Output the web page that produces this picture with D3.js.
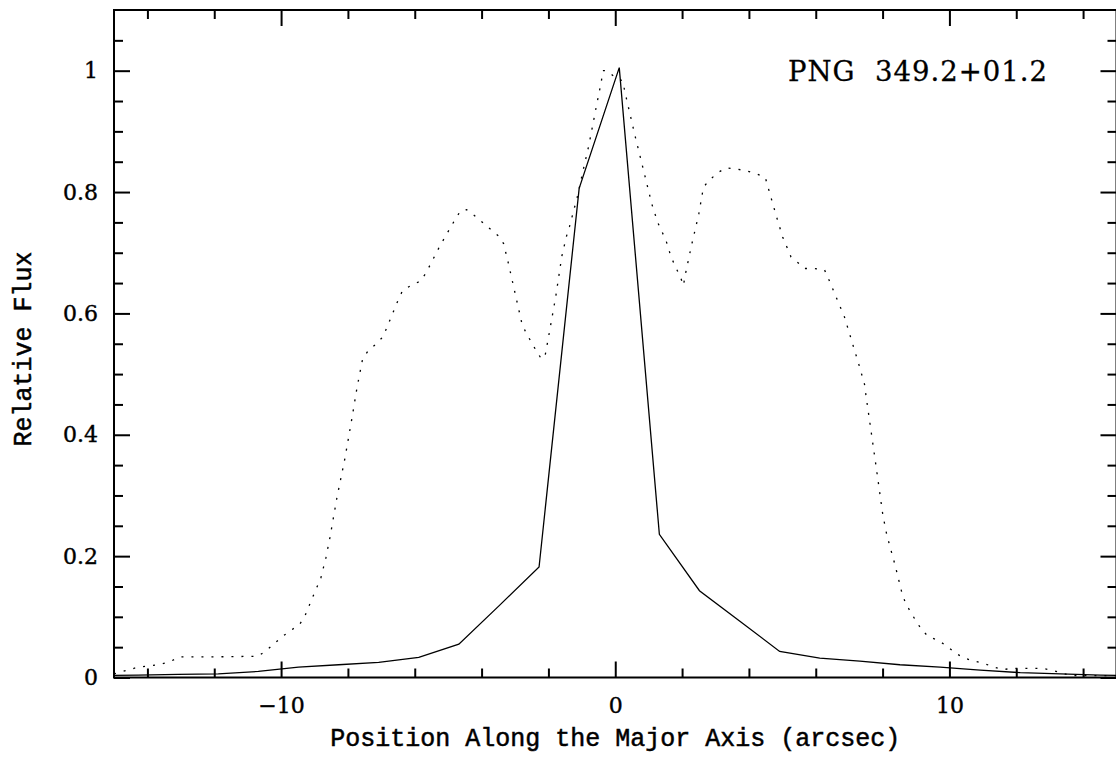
<!DOCTYPE html>
<html>
<head>
<meta charset="utf-8">
<script src="https://cdn.jsdelivr.net/npm/d3@7"></script>
<style>
  body { margin: 0; background: #fff; }
  svg { display: block; }
</style>
</head>
<body>
<svg id="viz"></svg>
<script>
// Data
const solidPos = [-15.48, -14.28, -13.08, -11.88, -10.68, -9.48, -8.28, -7.08, -5.88, -4.68,
    -3.48, -2.28, -1.08, 0.12, 1.32, 2.52, 3.72, 4.92, 6.12, 7.32,
    8.52, 9.72, 10.92, 12.12, 13.32, 14.52, 15.72]
const solidFlux = [0.003, 0.004, 0.005, 0.006, 0.010, 0.017, 0.021, 0.025, 0.033, 0.055,
    0.118, 0.182, 0.806, 1.005, 0.236, 0.143, 0.093, 0.043, 0.032, 0.027,
    0.021, 0.017, 0.012, 0.008, 0.006, 0.004, 0.003]

const dottedPos = [-15.0, -14.28, -13.68, -13.33, -13.03, -12.0, -10.69, -10.43, -9.95, -9.44,
    -9.29, -9.05, -8.81, -8.66, -8.54, -8.33, -8.09, -7.88, -7.73, -7.56,
    -7.40, -7.17, -6.96, -6.84, -6.49, -6.36, -6.11, -5.84, -5.67, -5.25,
    -4.80, -4.63, -4.45, -4.21, -3.74, -3.50, -3.34, -3.20, -3.00, -2.80,
    -2.68, -2.38, -2.21, -2.10, -1.99, -1.78, -1.60, -1.46, -1.37, -1.14,
    -0.94, -0.79, -0.57, -0.42, -0.37, -0.25, -0.02, 0.23, 0.28, 0.59,
    0.86, 1.09, 1.27, 1.52, 1.67, 1.97, 2.04, 2.10, 2.27, 2.50,
    2.64, 2.82, 3.10, 3.32, 3.62, 3.92, 4.23, 4.49, 4.66, 4.86,
    5.01, 5.26, 5.46, 5.66, 5.96, 6.26, 6.39, 6.86, 7.30, 7.46,
    7.50, 7.80, 8.01, 8.13, 8.37, 8.59, 8.70, 9.00, 9.18, 9.38,
    9.67, 9.94, 10.19, 10.44, 10.74, 11.04, 11.29, 11.59, 11.89, 12.78,
    13.08, 13.38, 13.63, 15.0]
const dottedFlux = [0.006, 0.017, 0.021, 0.026, 0.034, 0.034, 0.035, 0.045, 0.068, 0.088,
    0.101, 0.133, 0.164, 0.197, 0.230, 0.296, 0.361, 0.427, 0.477, 0.525,
    0.538, 0.549, 0.561, 0.576, 0.623, 0.638, 0.646, 0.653, 0.666, 0.711,
    0.754, 0.769, 0.771, 0.761, 0.739, 0.728, 0.715, 0.683, 0.634, 0.585,
    0.569, 0.540, 0.525, 0.530, 0.563, 0.628, 0.694, 0.727, 0.743, 0.791,
    0.841, 0.877, 0.940, 0.981, 1.0, 1.0, 0.990, 0.983, 0.967, 0.893,
    0.833, 0.781, 0.750, 0.720, 0.693, 0.657, 0.646, 0.665, 0.709, 0.764,
    0.808, 0.820, 0.833, 0.840, 0.838, 0.835, 0.830, 0.824, 0.791, 0.753,
    0.726, 0.693, 0.684, 0.674, 0.674, 0.672, 0.656, 0.594, 0.514, 0.483,
    0.466, 0.350, 0.267, 0.234, 0.186, 0.137, 0.121, 0.093, 0.078, 0.067,
    0.061, 0.051, 0.040, 0.032, 0.027, 0.023, 0.018, 0.013, 0.015, 0.015,
    0.012, 0.007, 0.003, 0.003]

// Ticks
const xMajor = [-10, 0, 10]
const xMinor = [-14, -12, -8, -6, -4, -2, 2, 4, 6, 8, 12, 14]
const yMajor = [0, 0.2, 0.4, 0.6, 0.8, 1]
const yMinor = [0.05, 0.1, 0.15, 0.25, 0.3, 0.35, 0.45, 0.5, 0.55, 0.65, 0.7, 0.75, 0.85, 0.9, 0.95, 1.05]

const title = "PNG\u00a0\u00a0349.2+01.2"
const xLabel = "Position Along the Major Axis (arcsec)"
const yLabel = "Relative Flux"

// Layout
const width = 1116, height = 760
const margin = { top: 10, right: -0.5, bottom: 82.5, left: 114 }
const majorLen = 16, minorLen = 9

const svg = d3.select("#viz").attr("width", width).attr("height", height)

const x = d3.scaleLinear().domain([-15, 15]).range([margin.left, width - margin.right])
const y = d3.scaleLinear().domain([0, 1.1]).range([height - margin.bottom, margin.top])

const tickFont = "'DejaVu Serif', serif"

// axes: ticks drawn inwards on all four sides
const addAxis = (axis, transform, labels) => {
    const g = svg.append("g").attr("transform", transform).call(axis)
    g.select(".domain").remove()
    g.selectAll(".tick line").attr("stroke", "#000").attr("stroke-width", 2)
    g.selectAll(".tick text").attr("fill", "#000")
        .attr("stroke", "#000").attr("stroke-width", 0.4)
        .style("font-family", tickFont).style("font-size", "22px")
    if (!labels) g.selectAll(".tick text").remove()
    return g
}

const x0 = height - margin.bottom, y0 = margin.top
const xL = margin.left, xR = width - margin.right

addAxis(d3.axisBottom(x).tickValues(xMajor).tickSize(-majorLen).tickPadding(20).tickFormat(d3.format("d")),
    `translate(0,${x0})`, true)
addAxis(d3.axisBottom(x).tickValues(xMinor).tickSize(-minorLen), `translate(0,${x0})`, false)
addAxis(d3.axisTop(x).tickValues(xMajor).tickSize(-majorLen), `translate(0,${y0})`, false)
addAxis(d3.axisTop(x).tickValues(xMinor).tickSize(-minorLen), `translate(0,${y0})`, false)

addAxis(d3.axisLeft(y).tickValues(yMajor).tickSize(-majorLen).tickPadding(16).tickFormat(d => d3.format("")(+d.toFixed(1))),
    `translate(${xL},0)`, true)
addAxis(d3.axisLeft(y).tickValues(yMinor).tickSize(-minorLen), `translate(${xL},0)`, false)
addAxis(d3.axisRight(y).tickValues(yMajor).tickSize(-majorLen), `translate(${xR},0)`, false)
addAxis(d3.axisRight(y).tickValues(yMinor).tickSize(-minorLen), `translate(${xR},0)`, false)

// frame
svg.append("rect")
    .attr("x", xL).attr("y", y0)
    .attr("width", xR - xL).attr("height", x0 - y0)
    .attr("fill", "none").attr("stroke", "#000").attr("stroke-width", 2)

// clip
svg.append("clipPath").attr("id", "plotclip")
    .append("rect").attr("x", xL).attr("y", y0).attr("width", xR - xL).attr("height", x0 - y0)

const line = d3.line().x(d => x(d[0])).y(d => y(d[1]))

const plot = svg.append("g").attr("clip-path", "url(#plotclip)")

plot.append("path")
    .datum(dottedPos.map((p, i) => [p, dottedFlux[i]]))
    .attr("d", line)
    .attr("fill", "none").attr("stroke", "#000").attr("stroke-width", 1.3)
    .attr("stroke-dasharray", "2,8")

plot.append("path")
    .datum(solidPos.map((p, i) => [p, solidFlux[i]]))
    .attr("d", line)
    .attr("fill", "none").attr("stroke", "#000").attr("stroke-width", 1.3)

// title
svg.append("text")
    .attr("x", 1048).attr("y", 81)
    .attr("text-anchor", "end")
    .attr("stroke", "#000").attr("stroke-width", 0.3)
    .style("font-family", tickFont).style("font-size", "27.5px")
    .style("letter-spacing", "1px")
    .text(title)

// axis labels
svg.append("text")
    .attr("x", (xL + xR) / 2).attr("y", 746)
    .attr("text-anchor", "middle")
    .attr("stroke", "#000").attr("stroke-width", 0.5)
    .style("font-family", "'Liberation Mono', monospace").style("font-size", "25px")
    .text(xLabel)

svg.append("text")
    .attr("transform", `translate(31,349) rotate(-90)`)
    .attr("text-anchor", "middle")
    .attr("stroke", "#000").attr("stroke-width", 0.5)
    .style("font-family", "'Liberation Mono', monospace").style("font-size", "25px")
    .text(yLabel)
</script>
</body>
</html>
